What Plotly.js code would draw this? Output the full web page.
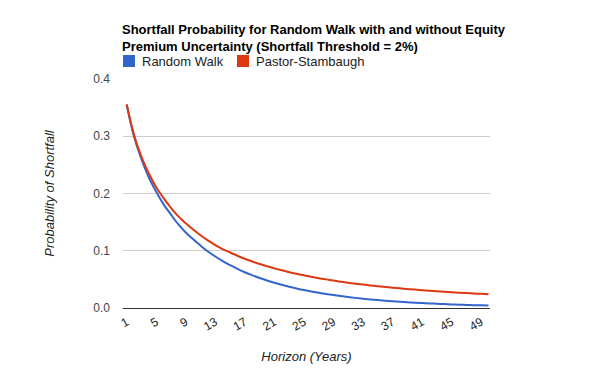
<!DOCTYPE html>
<html>
<head>
<meta charset="utf-8">
<script src="https://cdn.plot.ly/plotly-3.0.1.min.js"></script>
<style>html,body{margin:0;padding:0;background:#fff;}#chart{width:600px;height:371px;}</style>
</head>
<body>
<div id="chart"></div>
<script>
const horizons = Array.from({length: 50}, (_, i) => i + 1);
const tickVals = [1,5,9,13,17,21,25,29,33,37,41,45,49];
const tickText = tickVals.map(String);
const yTickVals = [0, 0.1, 0.2, 0.3, 0.4];
const yTickText = ["0.0", "0.1", "0.2", "0.3", "0.4"];

const randomWalk = [
  0.355,0.299,0.260,0.228,0.203,0.181,0.163,0.146,0.132,0.120,
  0.109,0.0987,0.0899,0.0820,0.0748,0.0684,0.0625,0.0573,0.0524,0.0481,
  0.0441,0.0405,0.0372,0.0342,0.0314,0.0289,0.0266,0.0245,0.0226,0.0208,
  0.0192,0.0177,0.0163,0.0150,0.0139,0.0128,0.0118,0.0109,0.0101,0.0093,
  0.0086,0.0080,0.0074,0.0068,0.0063,0.0058,0.0054,0.0050,0.0046,0.0043
];
const pastorStambaugh = [
  0.356,0.302,0.264,0.235,0.211,0.192,0.175,0.160,0.148,0.137,
  0.127,0.118,0.110,0.103,0.097,0.0913,0.0860,0.0813,0.0768,0.0728,
  0.0692,0.0658,0.0626,0.0597,0.0571,0.0545,0.0521,0.0500,0.0480,0.0459,
  0.0442,0.0425,0.0409,0.0395,0.0380,0.0367,0.0355,0.0343,0.0332,0.0321,
  0.0311,0.0301,0.0292,0.0284,0.0276,0.0268,0.0261,0.0254,0.0247,0.0240
];
const seriesNames = ["Random Walk", "Pastor-Stambaugh"];
const seriesColors = ["#3366cc", "#dc3912"];

const font = "Arial, 'Liberation Sans', sans-serif";
const W = 600, H = 371;

const traces = [
  {x: horizons, y: randomWalk, type: 'scatter', mode: 'lines', name: seriesNames[0],
   line: {color: seriesColors[0], width: 2, shape: 'spline', smoothing: 1}},
  {x: horizons, y: pastorStambaugh, type: 'scatter', mode: 'lines', name: seriesNames[1],
   line: {color: seriesColors[1], width: 2, shape: 'spline', smoothing: 1}}
];

// Legend built as swatches + labels (Google-Charts style square keys)
const legendX = [123, 237];
const shapes = [];
const annotations = [];
seriesNames.forEach((name, i) => {
  shapes.push({
    type: 'rect', xref: 'paper', yref: 'paper', layer: 'above',
    x0: (legendX[i] - 123) / (W - 233), x1: (legendX[i] + 12 - 123) / (W - 233),
    y0: (H - 63 - 67) / (H - 79 - 63), y1: (H - 63 - 55) / (H - 79 - 63),
    fillcolor: seriesColors[i], line: {width: 0}
  });
  annotations.push({
    xref: 'paper', yref: 'paper', showarrow: false,
    x: (legendX[i] + 17 - 123) / (W - 233), xanchor: 'left',
    y: (H - 63 - 61) / (H - 79 - 63), yanchor: 'middle',
    text: name, font: {family: font, size: 13, color: '#222'}
  });
});

const layout = {
  width: W, height: H,
  paper_bgcolor: '#fff', plot_bgcolor: '#fff',
  margin: {l: 123, r: 110, t: 79, b: 63, pad: 0},
  font: {family: font, size: 12, color: '#444'},
  title: {
    text: '<b>Shortfall Probability for Random Walk with and without Equity<br>Premium Uncertainty (Shortfall Threshold = 2%)</b>',
    font: {family: font, size: 13, color: '#000'},
    x: 122/W, xanchor: 'left', xref: 'container',
    y: 1 - 34/H, yanchor: 'top', yref: 'container', align: 'left'
  },
  showlegend: false,
  shapes: shapes,
  annotations: annotations,
  xaxis: {
    range: [0.5, 50.2],
    tickmode: 'array', tickvals: tickVals, ticktext: tickText,
    tickangle: -30, ticks: '', showgrid: false, zeroline: false,
    showline: false, ticklabelstandoff: 4,
    tickfont: {family: font, size: 12, color: '#222'},
    title: {text: '<i>Horizon (Years)</i>', font: {family: font, size: 13, color: '#222'}, standoff: 19}
  },
  yaxis: {
    range: [0, 0.4],
    tickmode: 'array', tickvals: yTickVals, ticktext: yTickText,
    showgrid: true, gridcolor: '#cccccc', gridwidth: 1,
    zeroline: true, zerolinecolor: '#333', zerolinewidth: 1,
    ticks: '', ticklabelstandoff: 12,
    tickfont: {family: font, size: 12, color: '#444'},
    title: {text: '<i>Probability of Shortfall</i>', font: {family: font, size: 13, color: '#222'}, standoff: 35}
  }
};

Plotly.newPlot('chart', traces, layout, {displayModeBar: false, staticPlot: true});
</script>
</body>
</html>
